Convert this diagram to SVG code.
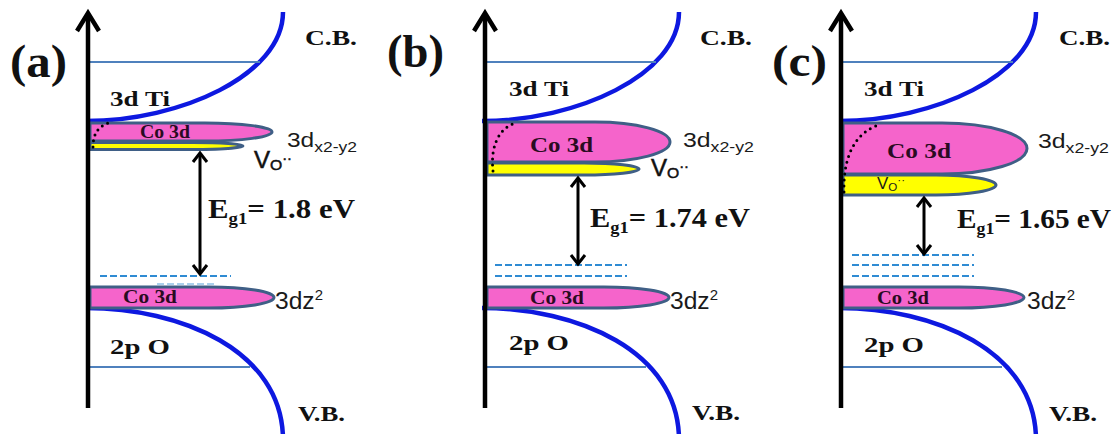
<svg xmlns="http://www.w3.org/2000/svg" width="1116" height="434" viewBox="0 0 1116 434">
<style>
.bg{fill:#ffffff}
.axis{stroke:#000;stroke-width:4.5;fill:none;stroke-linejoin:miter}
.band-curve{stroke:#0d18e0;stroke-width:4.5;fill:none}
.level{stroke:#4f81bd;stroke-width:2}
.dash{stroke:#2f8bd3;stroke-width:2;stroke-dasharray:7 3}
.pink{fill:#f564cb;stroke:#3f5f86;stroke-width:3}
.yellow{fill:#ffff00;stroke:#3f5f86;stroke-width:3}
.dots{stroke:#000;stroke-width:3;fill:none;stroke-linecap:round;stroke-dasharray:0 6}
.arrow{stroke:#000;stroke-width:3;fill:none}
.bold{font-family:"Liberation Serif","Times New Roman",serif;font-weight:bold;fill:#111}
.co{font-family:"Liberation Serif","Times New Roman",serif;font-weight:bold;fill:#2a0b22}
.sans{font-family:"Liberation Sans",Arial,sans-serif;fill:#1a1a1a}
.vo{font-family:"Liberation Sans",Arial,sans-serif;fill:#111;stroke:#111;stroke-width:0.5}
</style>
<rect class="bg" x="0" y="0" width="1116" height="434"/>

<!-- Panel (a) -->
<g id="panel-a">
  <g id="a-cb"><path class="band-curve" d="M283 12 C283 75 180 121 86 121"/><line class="level" x1="90" y1="62" x2="260" y2="62"/></g>
  <g id="a-vb"><path class="band-curve" d="M86 308 C180 308 283 350 283 440"/><line class="level" x1="90" y1="367" x2="250" y2="367"/></g>
  <g id="a-dashes"><line class="dash" x1="100" y1="276" x2="231" y2="276"/><line class="dash" x1="157" y1="284" x2="217" y2="284" opacity="0.4"/></g>
  <g id="a-vo"><path class="yellow" d="M90 142.5 H193 A50 3.5 0 0 1 243 146 A50 3.5 0 0 1 193 149.5 H90 Z"/></g>
  <g id="a-co-upper"><path class="pink" d="M90 123 H205 A67 9 0 0 1 272 132 A67 9 0 0 1 205 141 H90 Z"/>
    <text class="co" x="140" y="138" font-size="18" textLength="50" lengthAdjust="spacingAndGlyphs">Co 3d</text></g>
  <path class="dots" d="M93 147 C93 132 100 124 113 122"/>
  <g id="a-co-lower"><path class="pink" d="M90 287 H209 A65 10.5 0 0 1 274 297.5 A65 10.5 0 0 1 209 308 H90 Z"/>
    <text class="co" x="123" y="303" font-size="18" textLength="54" lengthAdjust="spacingAndGlyphs">Co 3d</text></g>
  <g id="a-axis"><line class="axis" x1="88" y1="408" x2="88" y2="15"/><polyline class="axis" points="77,31 88,13 99,31"/></g>
  <text class="bold" x="10" y="77" font-size="46" textLength="57" lengthAdjust="spacingAndGlyphs">(a)</text>
  <text class="bold" x="305" y="45" font-size="21" textLength="52" lengthAdjust="spacingAndGlyphs">C.B.</text>
  <text class="bold" x="110" y="106" font-size="22" textLength="60" lengthAdjust="spacingAndGlyphs">3d Ti</text>
  <text class="sans" x="287" y="147" font-size="21" textLength="70" lengthAdjust="spacingAndGlyphs">3d<tspan font-size="15" dy="5">x2-y2</tspan></text>
  <text class="vo" x="254" y="168" font-size="23" textLength="38" lengthAdjust="spacingAndGlyphs">V<tspan font-size="15" dy="2">O</tspan><tspan font-size="14" dy="-7">··</tspan></text>
  <text class="bold" x="208" y="218" font-size="28" textLength="147" lengthAdjust="spacingAndGlyphs">E<tspan font-size="17" dy="6">g1</tspan><tspan dy="-6">= 1.8 eV</tspan></text>
  <text class="sans" x="275" y="309" font-size="23" textLength="48" lengthAdjust="spacingAndGlyphs">3dz<tspan font-size="14" dy="-9">2</tspan></text>
  <text class="bold" x="110" y="354" font-size="22" textLength="60" lengthAdjust="spacingAndGlyphs">2p O</text>
  <text class="bold" x="298" y="421" font-size="21" textLength="47" lengthAdjust="spacingAndGlyphs">V.B.</text>
</g>

<!-- Panel (b) -->
<g id="panel-b">
  <g id="b-cb"><path class="band-curve" d="M679 12 C679 75 576 121 482 121"/><line class="level" x1="487" y1="62" x2="656" y2="62"/></g>
  <g id="b-vb"><path class="band-curve" d="M482 308 C576 308 679 350 679 440"/><line class="level" x1="487" y1="367" x2="646" y2="367"/></g>
  <g id="b-dashes"><line class="dash" x1="495" y1="265" x2="627" y2="265"/><line class="dash" x1="495" y1="276" x2="627" y2="276"/></g>
  <g id="b-vo"><path class="yellow" d="M487 163 H584 A55 6 0 0 1 639 169 A55 6 0 0 1 584 175 H487 Z"/></g>
  <g id="b-co-upper"><path class="pink" d="M487 122 H595 A75 20 0 0 1 670 142 A75 20 0 0 1 595 162 H487 Z"/>
    <text class="co" x="530" y="152" font-size="22" textLength="63" lengthAdjust="spacingAndGlyphs">Co 3d</text></g>
  <path class="dots" d="M493 171 C490 145 500 127 516 123"/>
  <g id="b-co-lower"><path class="pink" d="M487 287 H604 A65 10.5 0 0 1 669 297.5 A65 10.5 0 0 1 604 308 H487 Z"/>
    <text class="co" x="530" y="304" font-size="18" textLength="54" lengthAdjust="spacingAndGlyphs">Co 3d</text></g>
  <g id="b-axis"><line class="axis" x1="485" y1="408" x2="485" y2="15"/><polyline class="axis" points="474,31 485,13 496,31"/></g>
  <text class="bold" x="387" y="67" font-size="46" textLength="57" lengthAdjust="spacingAndGlyphs">(b)</text>
  <text class="bold" x="700" y="45" font-size="21" textLength="52" lengthAdjust="spacingAndGlyphs">C.B.</text>
  <text class="bold" x="509" y="96" font-size="22" textLength="60" lengthAdjust="spacingAndGlyphs">3d Ti</text>
  <text class="sans" x="683" y="147" font-size="21" textLength="71" lengthAdjust="spacingAndGlyphs">3d<tspan font-size="15" dy="5">x2-y2</tspan></text>
  <text class="vo" x="651" y="176" font-size="23" textLength="38" lengthAdjust="spacingAndGlyphs">V<tspan font-size="15" dy="2">O</tspan><tspan font-size="14" dy="-7">··</tspan></text>
  <text class="bold" x="590" y="227" font-size="28" textLength="160" lengthAdjust="spacingAndGlyphs">E<tspan font-size="17" dy="6">g1</tspan><tspan dy="-6">= 1.74 eV</tspan></text>
  <text class="sans" x="670" y="309" font-size="23" textLength="48" lengthAdjust="spacingAndGlyphs">3dz<tspan font-size="14" dy="-9">2</tspan></text>
  <text class="bold" x="509" y="350" font-size="22" textLength="60" lengthAdjust="spacingAndGlyphs">2p O</text>
  <text class="bold" x="692" y="420" font-size="21" textLength="48" lengthAdjust="spacingAndGlyphs">V.B.</text>
</g>

<!-- Panel (c) -->
<g id="panel-c">
  <g id="c-cb"><path class="band-curve" d="M1036 12 C1036 75 933 121 839 121"/><line class="level" x1="843" y1="62" x2="1013" y2="62"/></g>
  <g id="c-vb"><path class="band-curve" d="M839 308 C933 308 1036 350 1036 440"/><line class="level" x1="843" y1="367" x2="1002" y2="367"/></g>
  <g id="c-dashes"><line class="dash" x1="852" y1="255" x2="974" y2="255"/><line class="dash" x1="852" y1="265" x2="974" y2="265"/><line class="dash" x1="852" y1="276" x2="974" y2="276"/></g>
  <g id="c-vo"><path class="yellow" d="M843 175 H936 A60 10 0 0 1 996 185 A60 10 0 0 1 936 195 H843 Z"/>
    <text class="sans" x="877" y="189" font-size="16" textLength="28" lengthAdjust="spacingAndGlyphs">V<tspan font-size="11" dy="2">O</tspan><tspan font-size="11" dy="-7">··</tspan></text></g>
  <g id="c-co-upper"><path class="pink" d="M843 123 H942 A85 25.5 0 0 1 1027 148.5 A85 25.5 0 0 1 942 174 H843 Z"/>
    <text class="co" x="887" y="158" font-size="22" textLength="64" lengthAdjust="spacingAndGlyphs">Co 3d</text></g>
  <path class="dots" d="M844 192 C843 160 853 135 876 126"/>
  <g id="c-co-lower"><path class="pink" d="M843 287 H959 A65 10.5 0 0 1 1024 297.5 A65 10.5 0 0 1 959 308 H843 Z"/>
    <text class="co" x="877" y="304" font-size="18" textLength="52" lengthAdjust="spacingAndGlyphs">Co 3d</text></g>
  <g id="c-axis"><line class="axis" x1="841" y1="408" x2="841" y2="15"/><polyline class="axis" points="830,31 841,13 852,31"/></g>
  <text class="bold" x="772" y="76" font-size="44" textLength="55" lengthAdjust="spacingAndGlyphs">(c)</text>
  <text class="bold" x="1059" y="45" font-size="21" textLength="51" lengthAdjust="spacingAndGlyphs">C.B.</text>
  <text class="bold" x="864" y="96" font-size="22" textLength="60" lengthAdjust="spacingAndGlyphs">3d Ti</text>
  <text class="sans" x="1038" y="148" font-size="21" textLength="71" lengthAdjust="spacingAndGlyphs">3d<tspan font-size="15" dy="5">x2-y2</tspan></text>
  <text class="bold" x="957" y="228" font-size="28" textLength="154" lengthAdjust="spacingAndGlyphs">E<tspan font-size="17" dy="6">g1</tspan><tspan dy="-6">= 1.65 eV</tspan></text>
  <text class="sans" x="1027" y="309" font-size="23" textLength="48" lengthAdjust="spacingAndGlyphs">3dz<tspan font-size="14" dy="-9">2</tspan></text>
  <text class="bold" x="864" y="352" font-size="22" textLength="60" lengthAdjust="spacingAndGlyphs">2p O</text>
  <text class="bold" x="1049" y="421" font-size="21" textLength="48" lengthAdjust="spacingAndGlyphs">V.B.</text>
</g>

<!-- Connectors: band-gap double arrows -->
<g id="connectors">
  <g id="arrow-a"><line class="arrow" x1="200" y1="153" x2="200" y2="274"/><polyline class="arrow" points="193,162 200,153 207,162"/><polyline class="arrow" points="193,265 200,274 207,265"/></g>
  <g id="arrow-b"><line class="arrow" x1="578" y1="178" x2="578" y2="264"/><polyline class="arrow" points="571,187 578,178 585,187"/><polyline class="arrow" points="571,255 578,264 585,255"/></g>
  <g id="arrow-c"><line class="arrow" x1="924" y1="198" x2="924" y2="254"/><polyline class="arrow" points="917,207 924,198 931,207"/><polyline class="arrow" points="917,245 924,254 931,245"/></g>
</g>
</svg>
